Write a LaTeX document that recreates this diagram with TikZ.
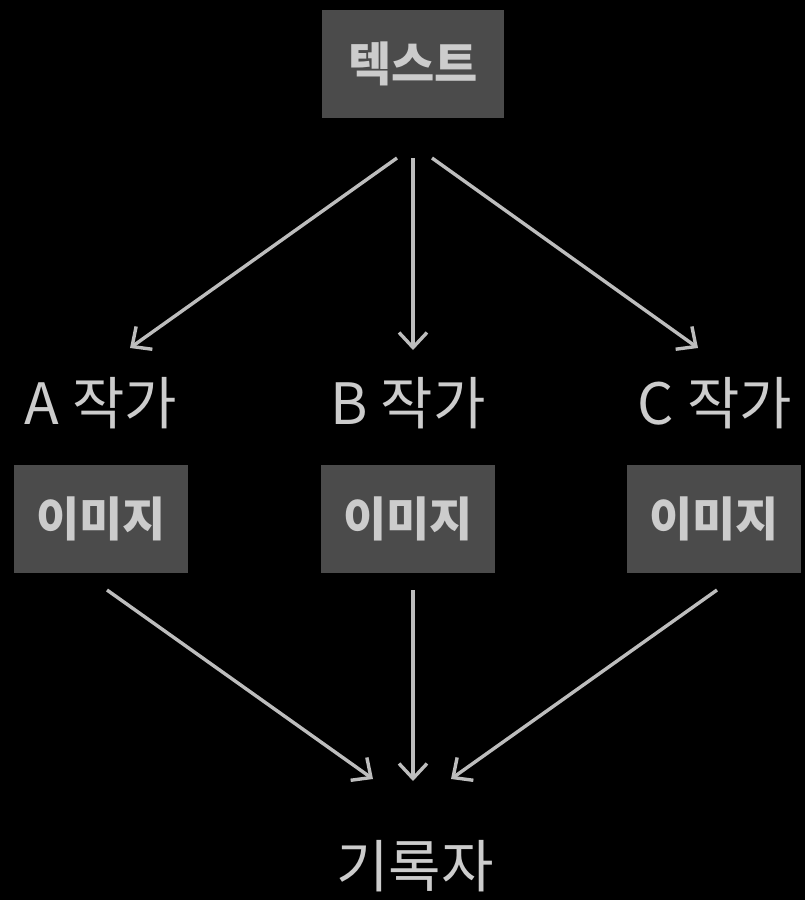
\documentclass[tikz,border=0pt]{standalone}
\usepackage{fontspec}
\setmainfont{Noto Sans CJK KR}
\usetikzlibrary{arrows.meta}
\definecolor{boxfill}{HTML}{4B4B4B}
\definecolor{txt}{HTML}{CCCCCC}
\definecolor{arr}{HTML}{BDBDBD}
\tikzset{
  graybox/.style={fill=boxfill, draw=none, text=txt, minimum width=#1, minimum height=108pt, inner sep=0pt, font=\fontsize{47}{47}\selectfont\bfseries},
  lbl/.style={text=txt, inner sep=0pt, font=\fontsize{57}{57}\selectfont},
  conn/.style={draw=arr, line width=3.4pt, -{Straight Barb[length=15pt, width=28pt, line width=3.4pt]}}
}
\begin{document}
\begin{tikzpicture}[x=1pt, y=-1pt]
\useasboundingbox[fill=black] (0,0) rectangle (805,900);
\node[graybox=182pt] (txt) at (413,64) {텍스트};
\node[lbl] (la) at (101,403) {A 작가};
\node[lbl] (lb) at (408,403) {B 작가};
\node[lbl] (lc) at (715,403) {C 작가};
\node[graybox=174pt] (ia) at (101,519) {이미지};
\node[graybox=174pt] (ib) at (408,519) {이미지};
\node[graybox=174pt] (ic) at (714,519) {이미지};
\node[lbl] (rec) at (415,866) {기록자};
\coordinate (s1) at (397,158);
\coordinate (s2) at (413,158);
\coordinate (s3) at (432,158);
\coordinate (e1) at (130,348);
\coordinate (e2) at (413,350);
\coordinate (e3) at (698,348);
\coordinate (b1) at (107,590);
\coordinate (b2) at (413,590);
\coordinate (b3) at (717,590);
\coordinate (f1) at (373,779);
\coordinate (f2) at (413,781);
\coordinate (f3) at (451,779);
\draw[conn] (s1) -- (e1);
\draw[conn] (s2) -- (e2);
\draw[conn] (s3) -- (e3);
\draw[conn] (b1) -- (f1);
\draw[conn] (b2) -- (f2);
\draw[conn] (b3) -- (f3);
\end{tikzpicture}
\end{document}
